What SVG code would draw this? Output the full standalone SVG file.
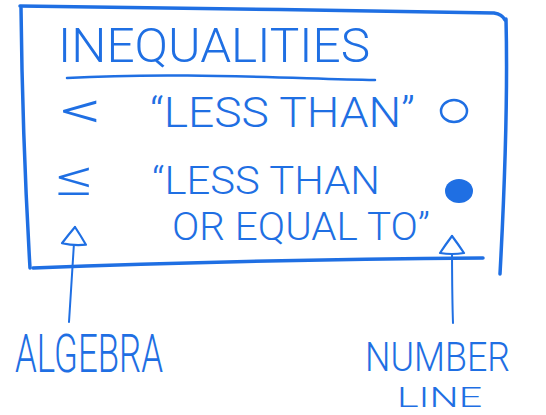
<svg xmlns="http://www.w3.org/2000/svg" width="546" height="415" viewBox="0 0 546 415">
<style>
.ink{fill:none;stroke:#1f6fe3;stroke-linecap:round;stroke-linejoin:round}
.t{font-family:Roboto,"Open Sans","Liberation Sans",sans-serif;font-weight:300;fill:#1f6fe3}
</style>
<defs>
<marker id="ah" markerUnits="userSpaceOnUse" viewBox="-2 -15 24 30" refX="18" refY="0" markerWidth="24" markerHeight="30" orient="auto">
<path d="M1,-12 Q10,-6 18,0 Q10,6 1,12 Q-1,0 1,-12 Z" fill="#fff" stroke="#1f6fe3" stroke-width="2.2" stroke-linejoin="round"/>
</marker>
</defs>
<rect width="546" height="415" fill="#fff"/>
<g id="box">
<path class="ink" stroke-width="3.5" d="M20,6 C150,8 350,10 494,13 C500,14 503,16 505,20"/>
<path class="ink" stroke-width="3.5" d="M506,19 C508,100 504,200 500,274"/>
<path class="ink" stroke-width="3.5" d="M21,8 C22,100 26,200 30,268"/>
<path class="ink" stroke-width="3.5" d="M33,268 C180,262 350,259 483,258"/>
</g>
<g id="title">
<text class="t" x="58" y="62" font-size="48" textLength="312" lengthAdjust="spacingAndGlyphs">INEQUALITIES</text>
<path class="ink" stroke-width="2.5" d="M67,78 C170,72 280,78 375,80"/>
</g>
<g id="row-less">
<text class="t" x="60" y="128" font-size="52" textLength="42" lengthAdjust="spacingAndGlyphs">&lt;</text>
<text class="t" x="150" y="127" font-size="42" textLength="265" lengthAdjust="spacingAndGlyphs">“LESS THAN”</text>
<ellipse class="ink" stroke-width="2.5" cx="454" cy="111" rx="13" ry="11"/>
</g>
<g id="row-less-equal">
<text class="t" x="56" y="195" font-size="50" textLength="38" lengthAdjust="spacingAndGlyphs">≤</text>
<text class="t" x="152" y="194" font-size="38" textLength="228" lengthAdjust="spacingAndGlyphs">“LESS THAN</text>
<text class="t" x="172" y="240" font-size="38" textLength="258" lengthAdjust="spacingAndGlyphs">OR EQUAL TO”</text>
<ellipse cx="459" cy="191" rx="14" ry="12" fill="#1f6fe3"/>
</g>
<g id="connectors">
<path class="ink" stroke-width="2" marker-end="url(#ah)" d="M69,322 C71,290 73,260 75,227"/>
<path class="ink" stroke-width="2" marker-end="url(#ah)" d="M453,323 C452,295 452,265 452,236"/>
</g>
<g id="algebra">
<text class="t" x="15" y="372" font-size="54" textLength="148" lengthAdjust="spacingAndGlyphs">ALGEBRA</text>
</g>
<g id="number-line">
<text class="t" x="365" y="371" font-size="40" textLength="145" lengthAdjust="spacingAndGlyphs">NUMBER</text>
<text class="t" x="397" y="407" font-size="28" textLength="85" lengthAdjust="spacingAndGlyphs">LINE</text>
</g>
</svg>
